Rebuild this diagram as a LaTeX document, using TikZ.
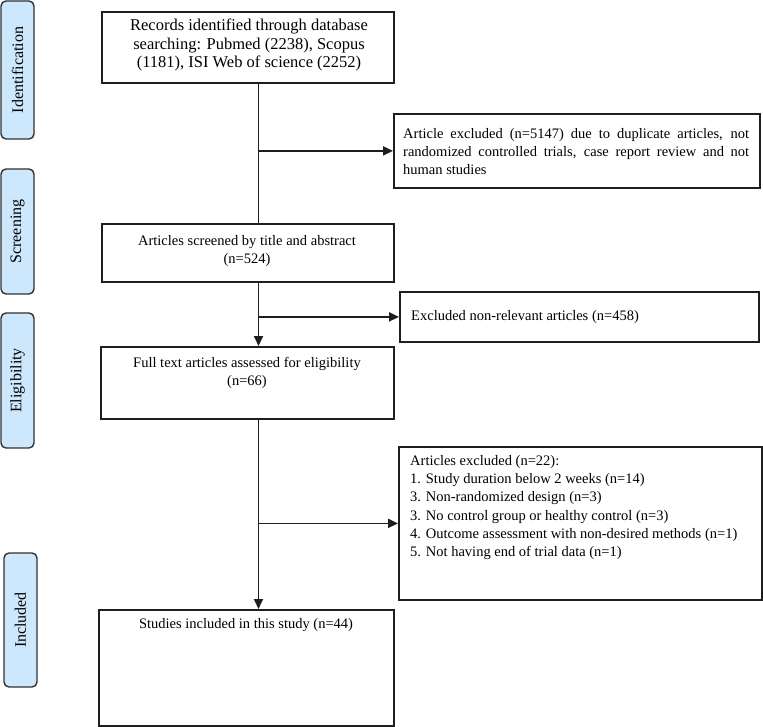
\documentclass[tikz,border=0pt]{standalone}
\usepackage{fontspec}
\setmainfont{Liberation Serif}
\usepackage{xcolor}
\usetikzlibrary{arrows.meta}
\definecolor{phaseblue}{RGB}{205,232,252}
\definecolor{phaseedge}{RGB}{50,50,50}
\definecolor{flowline}{RGB}{30,30,30}
\hyphenpenalty=10000
\tolerance=9999

\begin{document}
\begin{tikzpicture}[x=1pt, y=-1pt,
  flowbox/.style={draw=flowline, line width=1.8pt, anchor=north west, inner sep=0pt},
  flowtext/.style={font=\fontsize{14.5}{18.3}\selectfont, inner sep=0pt},
  phase/.style={draw=phaseedge, fill=phaseblue, line width=1.4pt, rounded corners=5pt,
    rotate=90, minimum height=33pt, inner sep=0pt, font=\fontsize{16}{18}\selectfont},
  link/.style={draw=flowline, line width=1.8pt},
  arr/.style={link, -{Triangle[length=10pt, width=9pt]}}]
\useasboundingbox (0,0) rectangle (763,727);

% phase labels on the left
\foreach \id/\stage/\xc/\yc/\len in {
    phId/Identification/17.5/70/138,
    phScr/Screening/17.5/231.5/125,
    phElig/Eligibility/17.5/380.5/135,
    phInc/Included/20.5/620/134
  } {
  \node[phase, minimum width=\len pt] (\id) at (\xc,\yc) {\stage};
}

% main column
\node[flowbox, minimum width=292pt, minimum height=71pt] (recs) at (101,11) {};
\node[flowbox, minimum width=292pt, minimum height=58pt] (scrn) at (101,223) {};
\node[flowbox, minimum width=293pt, minimum height=72pt] (fullt) at (100,346) {};
\node[flowbox, minimum width=295pt, minimum height=116pt] (incd) at (98,609) {};

% exclusion boxes
\node[flowbox, minimum width=366pt, minimum height=74pt] (dupx) at (393,113) {};
\node[flowbox, minimum width=359pt, minimum height=50pt] (nrelx) at (399,291) {};
\node[flowbox, minimum width=363pt, minimum height=153pt] (elgx) at (398,446) {};

% texts
\node[flowtext, anchor=north, align=center, font=\fontsize{16.5}{18.3}\selectfont] (recsT) at (249,19)
  {Records identified through database\\ searching: Pubmed (2238), Scopus\\ (1181), ISI Web of science (2252)};
\node[flowtext, anchor=north, align=center] (scrnT) at (247,235)
  {Articles screened by title and abstract\\ (n=524)};
\node[flowtext, anchor=north, align=center] (fulltT) at (247,357)
  {Full text articles assessed for eligibility\\ (n=66)};
\node[flowtext, anchor=north, align=center] (incdT) at (246,618)
  {Studies included in this study (n=44)};
\node[flowtext, anchor=north west, text width=346pt, align=justify] (dupxT) at (403,128)
  {Article excluded (n=5147) due to duplicate articles, not randomized controlled trials, case report review and not human studies};
\node[flowtext, anchor=north west] (nrelxT) at (411,310)
  {Excluded non-relevant articles (n=458)};
\node[flowtext, anchor=north west, align=left] (elgxT) at (410,455)
  {Articles excluded (n=22):\\
   1. Study duration below 2 weeks (n=14)\\
   3. Non-randomized design (n=3)\\
   3. No control group or healthy control (n=3)\\
   4. Outcome assessment with non-desired methods (n=1)\\
   5. Not having end of trial data (n=1)};

% connectors
\coordinate (spine) at (258.5,0);
\draw[link] (recs.south -| spine) -- (scrn.north -| spine);
\draw[arr] (spine |- dupx.west) -- (dupx.west);
\draw[arr] (scrn.south -| spine) -- (fullt.north -| spine);
\draw[arr] (spine |- nrelx.west) -- (nrelx.west);
\draw[arr] (fullt.south -| spine) -- (incd.north -| spine);
\draw[arr] (spine |- elgx.west) -- (elgx.west);
\end{tikzpicture}
\end{document}
